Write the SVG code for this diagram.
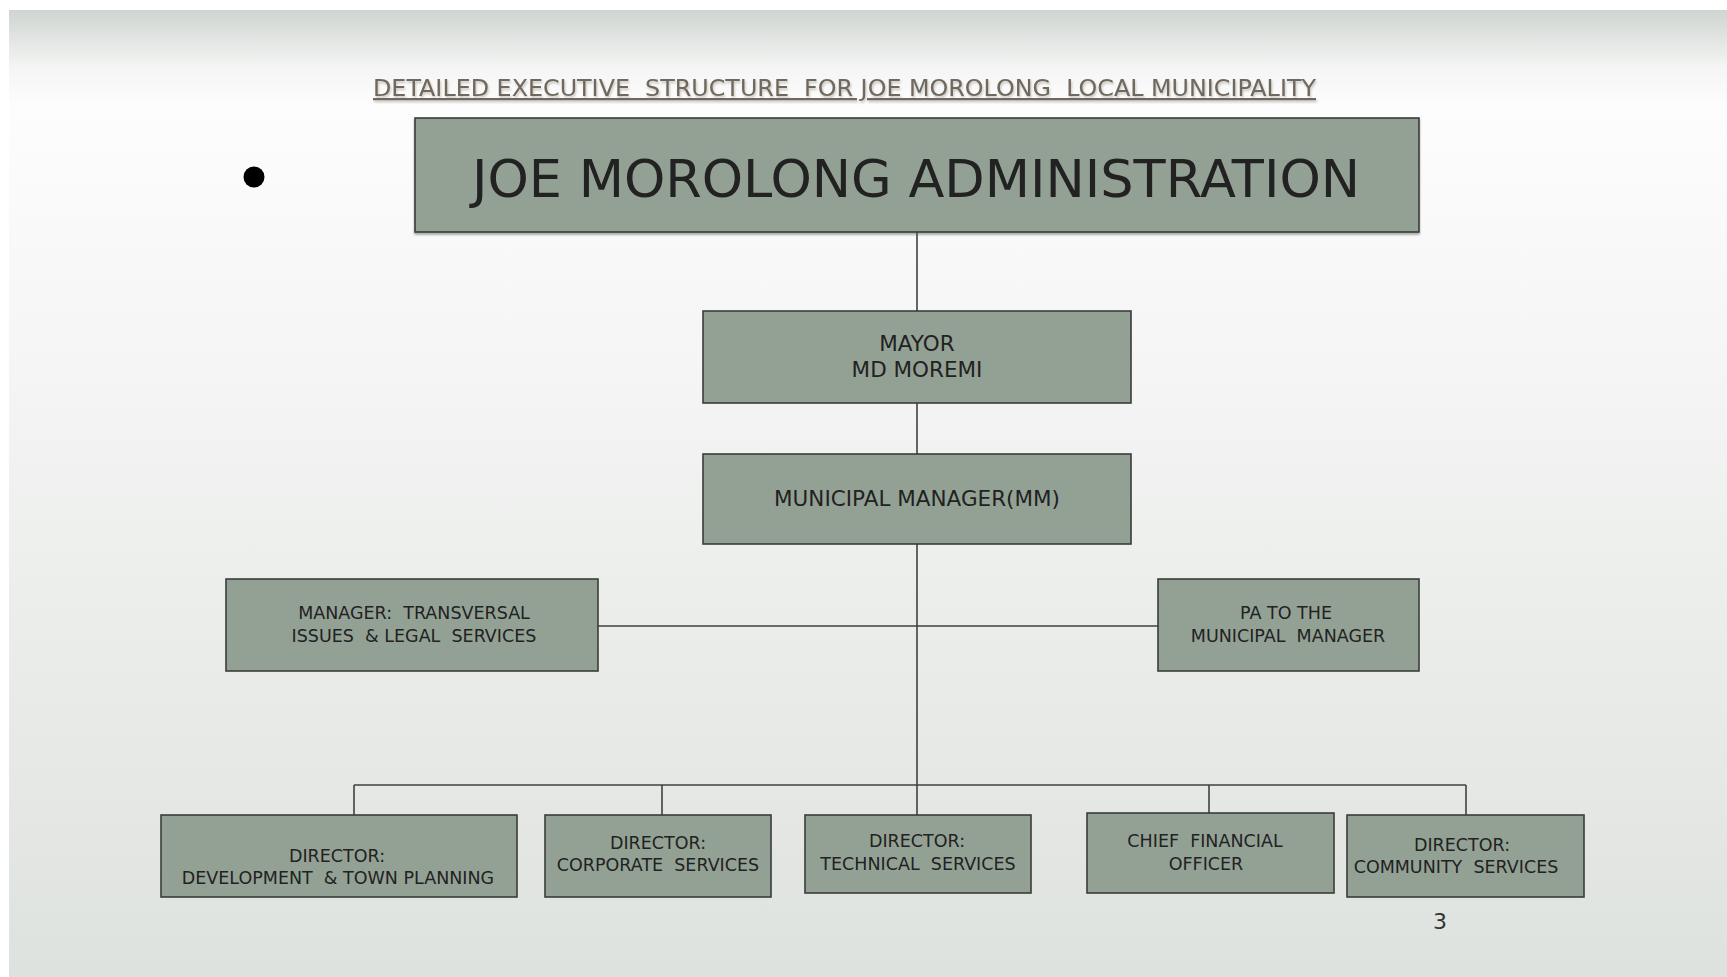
<svg xmlns="http://www.w3.org/2000/svg" width="1727" height="977" viewBox="0 0 1727 977">
<defs>
<linearGradient id="bg" x1="0" y1="0" x2="0" y2="1" gradientUnits="objectBoundingBox">
<stop offset="0" stop-color="#d0d5d1"/>
<stop offset="0.06" stop-color="#f4f5f4"/>
<stop offset="0.1" stop-color="#fdfdfd"/>
<stop offset="0.2" stop-color="#fafafa"/>
<stop offset="1" stop-color="#dee2de"/>
</linearGradient>
<filter id="sh" x="-5%" y="-5%" width="110%" height="120%">
<feDropShadow dx="0" dy="2" stdDeviation="1" flood-color="#555" flood-opacity="0.5"/>
</filter>
<filter id="tsh" x="-2%" y="-30%" width="104%" height="160%">
<feDropShadow dx="1" dy="2" stdDeviation="0.8" flood-color="#a59e94" flood-opacity="0.6"/>
</filter>
</defs>
<style>
.box{fill:#93a195;stroke:#3a3d3a;stroke-width:1.6}
.t{font-family:"DejaVu Sans","Liberation Sans",sans-serif;fill:#222;text-anchor:middle;white-space:pre}
.m{font-size:21.5px}
.s{font-size:17.5px}
.conn line{stroke:#3f413f;stroke-width:1.6}
</style>
<rect x="0" y="0" width="1727" height="977" fill="#ffffff"/>
<rect x="9" y="10" width="1718" height="967" fill="url(#bg)"/>
<text x="373" y="96" textLength="943" lengthAdjust="spacingAndGlyphs" text-decoration="underline" filter="url(#tsh)" style="font-family:'DejaVu Sans','Liberation Sans',sans-serif;font-size:22.5px;fill:#6f675d;white-space:pre">DETAILED EXECUTIVE  STRUCTURE  FOR JOE MOROLONG  LOCAL MUNICIPALITY</text>
<circle cx="254" cy="177" r="10.5" fill="#000"/>
<g class="conn">
<line x1="917" y1="232" x2="917" y2="311"/>
<line x1="917" y1="403" x2="917" y2="454"/>
<line x1="917" y1="544" x2="917" y2="785"/>
<line x1="598" y1="626" x2="1158" y2="626"/>
<line x1="354" y1="785" x2="1466" y2="785"/>
<line x1="354" y1="785" x2="354" y2="815"/>
<line x1="662" y1="785" x2="662" y2="815"/>
<line x1="917" y1="785" x2="917" y2="815"/>
<line x1="1209" y1="785" x2="1209" y2="813"/>
<line x1="1466" y1="785" x2="1466" y2="815"/>
</g>
<g id="admin">
<rect class="box" x="415" y="118" width="1004" height="114" filter="url(#sh)"/>
<text class="t" x="916" y="197" style="font-size:52px" textLength="888" lengthAdjust="spacingAndGlyphs">JOE MOROLONG ADMINISTRATION</text>
</g>
<g id="mayor">
<rect class="box" x="703" y="311" width="428" height="92"/>
<text class="t m" x="917" y="351">MAYOR</text>
<text class="t m" x="917" y="377">MD MOREMI</text>
</g>
<g id="mm">
<rect class="box" x="703" y="454" width="428" height="90"/>
<text class="t m" x="917" y="506">MUNICIPAL MANAGER(MM)</text>
</g>
<g id="legal">
<rect class="box" x="226" y="579" width="372" height="92"/>
<text class="t s" x="414" y="619">MANAGER:  TRANSVERSAL</text>
<text class="t s" x="414" y="642">ISSUES  &amp; LEGAL  SERVICES</text>
</g>
<g id="pa">
<rect class="box" x="1158" y="579" width="261" height="92"/>
<text class="t s" x="1286" y="619">PA TO THE</text>
<text class="t s" x="1288" y="642">MUNICIPAL  MANAGER</text>
</g>
<g id="dev">
<rect class="box" x="161" y="815" width="356" height="82"/>
<text class="t s" x="337" y="862">DIRECTOR:</text>
<text class="t s" x="338" y="884">DEVELOPMENT  &amp; TOWN PLANNING</text>
</g>
<g id="corp">
<rect class="box" x="545" y="815" width="226" height="82"/>
<text class="t s" x="658" y="849">DIRECTOR:</text>
<text class="t s" x="658" y="871">CORPORATE  SERVICES</text>
</g>
<g id="tech">
<rect class="box" x="805" y="815" width="226" height="78"/>
<text class="t s" x="917" y="847">DIRECTOR:</text>
<text class="t s" x="918" y="870">TECHNICAL  SERVICES</text>
</g>
<g id="cfo">
<rect class="box" x="1087" y="813" width="247" height="80"/>
<text class="t s" x="1205" y="847">CHIEF  FINANCIAL</text>
<text class="t s" x="1206" y="870">OFFICER</text>
</g>
<g id="comm">
<rect class="box" x="1347" y="815" width="237" height="82"/>
<text class="t s" x="1462" y="851">DIRECTOR:</text>
<text class="t s" x="1456" y="873">COMMUNITY  SERVICES</text>
</g>
<text x="1440" y="929" style="font-family:'DejaVu Sans','Liberation Sans',sans-serif;font-size:22px;fill:#333;text-anchor:middle">3</text>
</svg>
